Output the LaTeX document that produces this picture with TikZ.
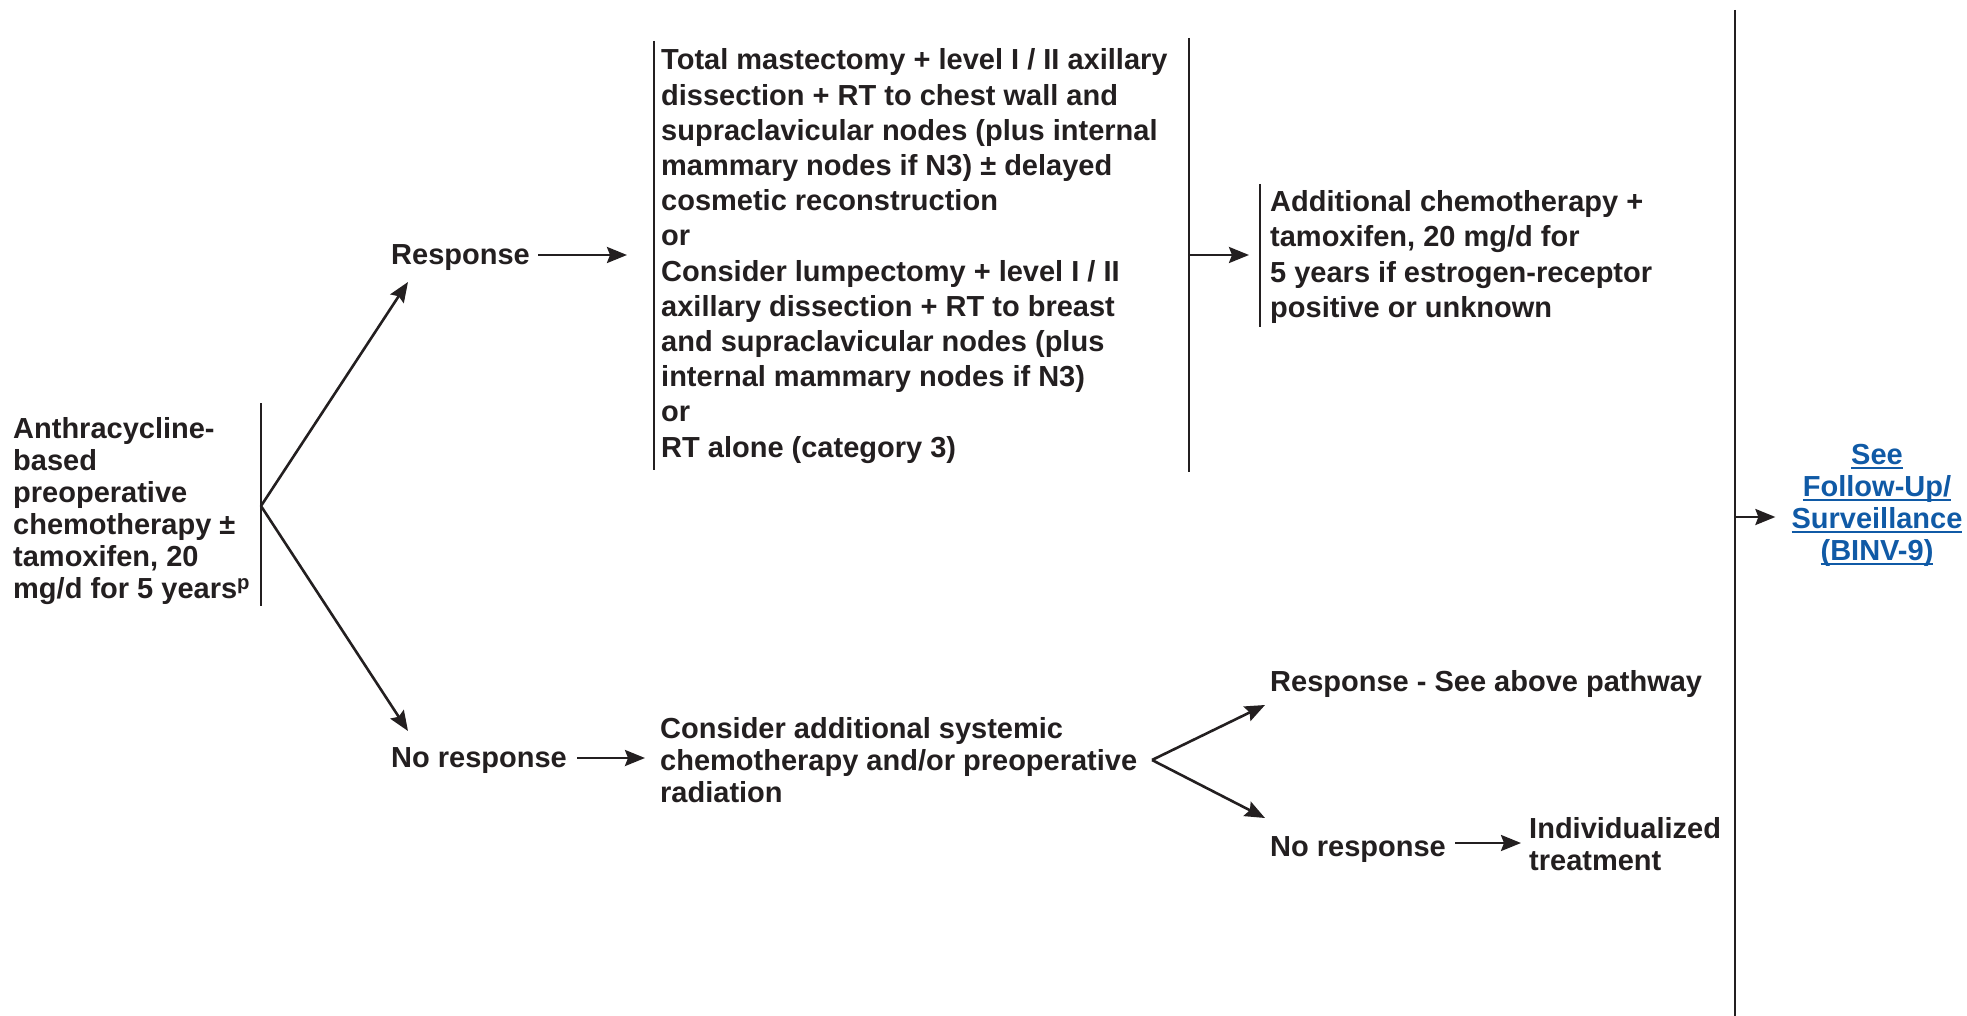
\documentclass[tikz,border=0pt]{standalone}
\usepackage{fontspec}
\setmainfont{Liberation Sans}
\usetikzlibrary{arrows.meta}
\definecolor{ink}{HTML}{231F20}
\definecolor{link}{RGB}{16,90,166}
\newcommand\linkul[1]{\setbox0\hbox{#1}\rlap{\color{link}\rule[-5pt]{\wd0}{2pt}}\box0}
\begin{document}
\begin{tikzpicture}[x=1pt,y=-1pt,
  txt/.style={inner sep=0pt, anchor=west, align=left, text=ink, font=\fontsize{29}{32}\selectfont\bfseries},
  wide/.style={font=\fontsize{29}{35.2}\selectfont\bfseries},
  bar/.style={draw=ink, line width=2.8pt},
  arr/.style={draw=ink, line width=2.6pt, -{Stealth[length=20pt,width=16pt,inset=3pt]}}]
\useasboundingbox (0,0) rectangle (1967,1016);

% left block
\node[txt] (chemo) at (13,511) {Anthracycline-\\based\\preoperative\\chemotherapy ±\\tamoxifen, 20\\mg/d for 5 years\textsuperscript{p}};
\draw[bar] (261,403) -- (261,606);
\coordinate (b1) at (261,506);

\node[txt] (resp) at (391,258) {Response};
\node[txt] (nresp) at (391,761) {No response};
\coordinate (rtip) at (408,282);
\coordinate (ntip) at (408,731);
\draw[arr] (b1) -- (rtip);
\draw[arr] (b1) -- (ntip);

% surgery block
\node[txt,wide] (surg) at (661,256) {Total mastectomy + level I / II axillary\\dissection + RT to chest wall and\\supraclavicular nodes (plus internal\\mammary nodes if N3) ± delayed\\cosmetic reconstruction\\or\\Consider lumpectomy + level I / II\\axillary dissection + RT to breast\\and supraclavicular nodes (plus\\internal mammary nodes if N3)\\or\\RT alone (category 3)};
\draw[bar] (654,41) -- (654,470);
\draw[bar] (1189,38) -- (1189,472);
\coordinate (ra) at (529,255);
\draw[arr, shorten <=9pt, shorten >=34pt] (ra) -- (ra -| surg.west);

% additional chemo block
\node[txt,wide] (addl) at (1270,257) {Additional chemotherapy +\\tamoxifen, 20 mg/d for\\5 years if estrogen-receptor\\positive or unknown};
\draw[bar] (1260,184) -- (1260,327);
\coordinate (sb) at (1190,255);
\draw[arr, shorten >=21pt] (sb) -- (sb -| addl.west);

% no response path
\node[txt] (cons) at (660,760) {Consider additional systemic\\chemotherapy and/or preoperative\\radiation};
\coordinate (na) at (567,758);
\draw[arr, shorten <=10pt, shorten >=15pt] (na) -- (na -| cons.west);
\coordinate (b2) at (1152,760);
\coordinate (t2a) at (1265,705);
\coordinate (t2b) at (1265,818);
\draw[arr] (b2) -- (t2a);
\draw[arr] (b2) -- (t2b);
\node[txt] (resp2) at (1270,684) {Response - See above pathway};
\node[txt] (nresp2) at (1270,850) {No response};
\node[txt] (indiv) at (1529,844) {Individualized\\treatment};
\coordinate (nb) at (1446,843);
\draw[arr, shorten <=9pt, shorten >=8pt] (nb) -- (nb -| indiv.west);

% follow-up
\draw[bar] (1735,10) -- (1735,1016);
\node[txt, anchor=center, align=center, text=link] (see) at (1877,505) {\linkul{See}\\\linkul{Follow-Up/}\\\linkul{Surveillance}\\\linkul{(BINV-9)}};
\coordinate (fb) at (1735,517);
\draw[arr, shorten >=16pt] (fb) -- (fb -| see.west);
\end{tikzpicture}
\end{document}
